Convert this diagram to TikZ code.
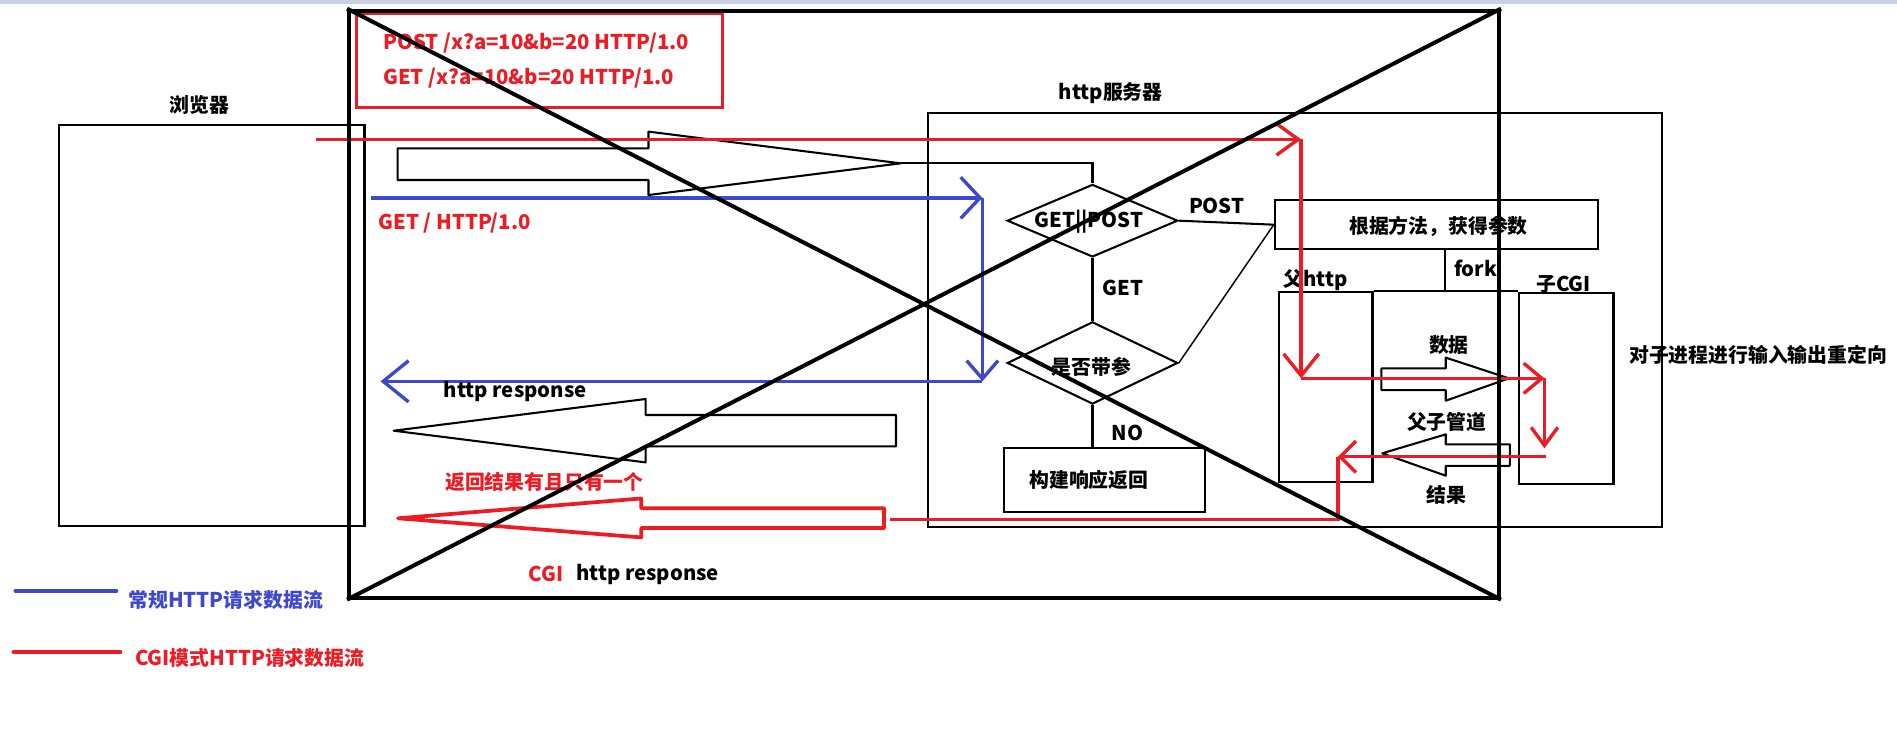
\documentclass[tikz,border=0pt]{standalone}
\usepackage{fontspec}
\setmainfont{Noto Sans CJK SC}
\newfontfamily\cjkf{Noto Sans CJK SC}
\usetikzlibrary{arrows.meta,shapes.geometric}
\definecolor{pred}{RGB}{237,28,36}
\definecolor{pblue}{RGB}{63,72,204}
\definecolor{strip}{RGB}{200,210,228}
\newcommand\zh[1]{{\cjkf\fontsize{16.4}{20}\selectfont #1}}
\begin{document}
\begin{tikzpicture}[x=1pt,y=-1pt,
  txt/.style={font=\bfseries\fontsize{16.8}{20}\selectfont, inner sep=0pt},
  box/.style={draw, line width=1.7pt, inner sep=0pt},
  dia/.style={diamond, draw, line width=1.7pt, inner sep=0pt},
  thinln/.style={line width=1.7pt},
  blk/.style={draw, line width=1.7pt, line join=round},
  flowr/.style={pred, line width=2.8pt},
  flowb/.style={pblue, line width=2.8pt},
]
\useasboundingbox (0,0) rectangle (1568,619);
\fill[strip] (0,0) rectangle (1568,3.3);

% browser
\node[box, minimum width=252.4pt, minimum height=331.2pt] (browser) at (175.1,268.9) {};
\node[txt] (browserlbl) at (165,87) {\zh{浏览器}};

% request box
\node[box, draw=pred, line width=2.4pt, minimum width=302.5pt, minimum height=77.4pt] (reqbox) at (445.75,50.3) {};
\node[txt, text=pred, anchor=west] (postreq) at (316.6,35.5) {POST /x?a=10\&b=20 HTTP/1.0};
\node[txt, text=pred, anchor=west] (getreq) at (316.6,64.5) {GET /x?a=10\&b=20 HTTP/1.0};

% server
\node[box, minimum width=607pt, minimum height=341.6pt] (server) at (1070.5,264.5) {};
\node[txt] (serverlbl) at (918,77) {http\zh{服务器}};

% flowchart
\node[dia, minimum width=141pt, minimum height=60pt] (gp) at (903,182.4) {};
\node[txt] (gplbl) at (900,183) {GET||POST};
\node[dia, minimum width=141pt, minimum height=68pt] (q) at (903,300) {};
\node[txt] (qlbl) at (902,303.6) {\zh{是否带参}};
\node[box, minimum width=267pt, minimum height=40.5pt] (param) at (1187.2,185.7) {};
\node[txt] (paramlbl) at (1189,187.4) {\zh{根据方法，获得参数}};
\node[box, minimum width=165.7pt, minimum height=53pt] (build) at (912.9,397) {};
\node[txt] (buildlbl) at (900,396.8) {\zh{构建响应返回}};
\node[box, minimum width=77.1pt, minimum height=157.6pt] (fh) at (1095.9,319.9) {};
\node[box, minimum width=77.9pt, minimum height=157.8pt] (cgi) at (1294.7,321.4) {};
\node[txt] (fhlbl) at (1087.4,231.4) {\zh{父}http};
\node[txt] (cgilbl) at (1292.4,234.8) {\zh{子}CGI};

\node[txt] (postlbl) at (1005.7,170) {POST};
\node[txt] (getlbl) at (928,238) {GET};
\node[txt] (nolbl) at (931.9,358) {NO};
\node[txt] (forklbl) at (1219.7,221.8) {fork};
\node[txt] (datalbl) at (1197.6,285.2) {\zh{数据}};
\node[txt] (pipelbl) at (1195.8,348.5) {\zh{父子管道}};
\node[txt] (reslbl) at (1195.8,409.2) {\zh{结果}};
\node[txt, anchor=west] (redirlbl) at (1346.4,293.4) {\zh{对子进程进行输入输出重定向}};

% block arrows
\coordinate (tipR) at (744.4,135);
\draw[blk] (328.6,122.6) -- (536,122.6) -- (536,108.8) -- (tipR) -- (536,161.2) -- (536,148.8) -- (328.6,148.8) -- cycle;
\draw[blk] (740.6,343) -- (533.7,343) -- (533.7,329.8) -- (325.4,356) -- (533.7,382.2) -- (533.7,369) -- (740.6,369) -- cycle;
\draw[blk, draw=pred, line width=3.1pt] (730.7,420) -- (530,420) -- (530,412) -- (329,428.4) -- (530,444.2) -- (530,436.5) -- (730.7,436.5) -- cycle;
\draw[blk] (1141.8,304.5) -- (1195,304.5) -- (1195,295.6) -- (1247.2,312.7) -- (1195,331.2) -- (1195,322.4) -- (1141.8,322.4) -- cycle;
\draw[blk] (1248,367.3) -- (1195,367.3) -- (1195,359) -- (1142.5,374.7) -- (1195,393.2) -- (1195,385) -- (1248,385) -- cycle;

% connectors
\draw[thinln] (tipR) -| (gp.north);
\draw[thinln] (gp.east) -- (param.west);
\draw[thinln] (gp.south) -- (q.north);
\draw[line width=1.2pt] (q.east) -- (param.west);
\draw[thinln] (q.south) -- (q.south |- build.north);
\coordinate (forkx) at (1194,0);
\draw[thinln] (param.south -| forkx) -- (forkx |- fh.north);
\draw[thinln] (fh.north east) -- (fh.north east -| cgi.west);

% red flow
\coordinate (r0) at (261,115.2);
\coordinate (r1) at (1075.5,115.2);
\coordinate (r2) at (1075.5,312.7);
\coordinate (r3) at (1276.6,312.7);
\coordinate (r4) at (1276.6,370.6);
\coordinate (r5) at (1278,377.5);
\coordinate (r6) at (1105.8,377.5);
\coordinate (r7) at (1105.8,429.3);
\coordinate (r8) at (736,429.3);
\draw[flowr, -{Straight Barb[length=18pt,width=26pt]}] (r0) -- (r1);
\draw[flowr, -{Straight Barb[length=18pt,width=29pt]}] (r1) -- (r2);
\draw[flowr, -{Straight Barb[length=15pt,width=25pt]}] (r2) -- (r3);
\draw[flowr, -{Straight Barb[length=15pt,width=22pt]}] (r3) -- (r4);
\draw[flowr, -{Straight Barb[length=13pt,width=26pt]}] (r5) -- (r6);
\draw[flowr] (r6) -- (r7) -- (r8);

% blue flow
\coordinate (b0) at (306.5,163.5);
\coordinate (b1) at (812,163.5);
\coordinate (b2) at (812,315.2);
\coordinate (b3) at (314.5,315.2);
\draw[flowb, -{Straight Barb[length=16pt,width=34pt]}] (b0) -- (b1);
\draw[flowb, -{Straight Barb[length=15pt,width=26pt]}] (b1) -- (b2);
\draw[flowb, -{Straight Barb[length=21pt,width=34pt]}] (b2) -- (b3);

% flow labels
\node[txt, text=pred, anchor=west] (getline) at (312.6,184.5) {GET / HTTP/1.0};
\node[txt, anchor=west] (resp1) at (366.6,323.5) {http response};
\node[txt, text=pred, anchor=west] (onlyone) at (367.8,398) {\zh{返回结果有且只有一个}};
\node[txt, text=pred, anchor=west] (cgiword) at (436.8,474.5) {CGI};
\node[txt, anchor=west] (resp2) at (476,474.5) {http response};

% legend
\coordinate (lb0) at (12.8,488.5);
\coordinate (lb1) at (96.2,488.5);
\coordinate (lr0) at (11.2,539.2);
\coordinate (lr1) at (99.4,539.2);
\draw[pblue, line width=3.3pt, line cap=round] (lb0) -- (lb1);
\draw[pred, line width=3.3pt, line cap=round] (lr0) -- (lr1);
\node[txt, text=pblue, anchor=west] (legb) at (106,496) {\zh{常规}HTTP\zh{请求数据流}};
\node[txt, text=pred, anchor=west] (legr) at (111.4,544) {CGI\zh{模式}HTTP\zh{请求数据流}};

% crossed-out frame
\node[draw, line width=3.3pt, inner sep=0pt, minimum width=950.5pt, minimum height=485.2pt] (crossbox) at (763.75,251.4) {};
\draw[line width=3.3pt] (crossbox.north west) -- (crossbox.south east);
\draw[line width=3.3pt] (crossbox.north east) -- (crossbox.south west);
\end{tikzpicture}
\end{document}
